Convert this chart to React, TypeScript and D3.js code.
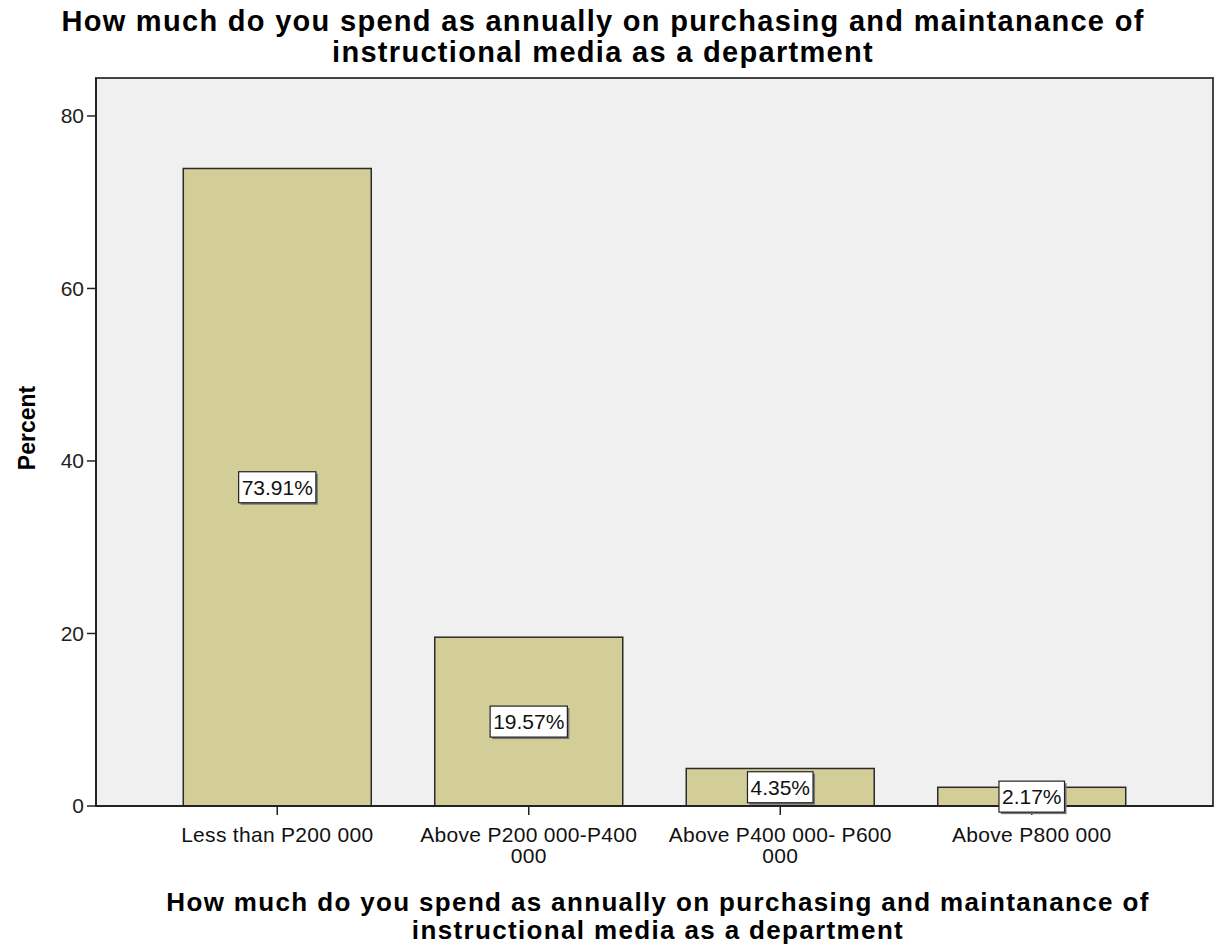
import React, { useEffect, useRef } from "react";
import * as d3 from "d3";

const categories = ["Less than P200 000", "Above P200 000-P400 000", "Above P400 000- P600 000", "Above P800 000"];
const tickLabelLines = [["Less than P200 000"], ["Above P200 000-P400", "000"], ["Above P400 000- P600", "000"], ["Above P800 000"]];
const percents = [73.91, 19.57, 4.35, 2.17];
const yTicks = [0, 20, 40, 60, 80];
const titleLines = ["How much do you spend as annually on purchasing and maintanance of", "instructional media as a department"];
const yTitle = "Percent";

const FONT = "'Liberation Sans', Arial, Helvetica, sans-serif";

export default function App() {
  const ref = useRef<SVGSVGElement>(null);
  useEffect(() => {
    const svg = d3.select(ref.current);
    svg.selectAll("*").remove();
    const W = 1215, H = 949;
    const left = 96, right = 1213, top = 78, bottom = 806;
    const x = d3.scaleBand<string>().domain(categories).range([left, right]).paddingInner(0.2525).paddingOuter(0.347);
    const y = d3.scaleLinear().domain([0, 84.4]).range([bottom, top]);

    svg.append("rect").attr("width", W).attr("height", H).attr("fill", "#fff");
    svg.append("rect").attr("x", left).attr("y", top).attr("width", right - left).attr("height", bottom - top)
      .attr("fill", "#f0f0f0");

    // bars
    svg.append("g").selectAll("rect").data(percents).join("rect")
      .attr("x", (d, i) => x(categories[i])!)
      .attr("y", d => y(d))
      .attr("width", x.bandwidth())
      .attr("height", d => y(0) - y(d))
      .attr("fill", "#d3ce97")
      .attr("stroke", "#2b2b2b")
      .attr("stroke-width", 1.5);

    // frame
    svg.append("rect").attr("x", left).attr("y", top).attr("width", right - left).attr("height", bottom - top)
      .attr("fill", "none").attr("stroke", "#444").attr("stroke-width", 2);
    svg.append("line").attr("x1", left).attr("x2", right).attr("y1", bottom).attr("y2", bottom)
      .attr("stroke", "#222").attr("stroke-width", 2);
    svg.append("line").attr("x1", left).attr("x2", left).attr("y1", top).attr("y2", bottom)
      .attr("stroke", "#222").attr("stroke-width", 2);

    // y ticks
    const yg = svg.append("g");
    yTicks.forEach(t => {
      yg.append("line").attr("x1", left - 9).attr("x2", left).attr("y1", y(t)).attr("y2", y(t))
        .attr("stroke", "#222").attr("stroke-width", 1.5);
      yg.append("text").attr("x", left - 12).attr("y", y(t)).attr("dy", "0.35em")
        .attr("text-anchor", "end").attr("font-family", FONT).attr("font-size", 21).attr("fill", "#222").text(t);
    });

    // x ticks
    const xg = svg.append("g");
    categories.forEach((c, i) => {
      const cx = x(c)! + x.bandwidth() / 2;
      xg.append("line").attr("x1", cx).attr("x2", cx).attr("y1", bottom).attr("y2", bottom + 9)
        .attr("stroke", "#222").attr("stroke-width", 1.5);
      tickLabelLines[i].forEach((ln, j) => {
        xg.append("text").attr("x", cx).attr("y", 842 + j * 21).attr("text-anchor", "middle")
          .attr("font-family", FONT).attr("font-size", 21).attr("letter-spacing", 0.3).attr("fill", "#111").text(ln);
      });
    });

    // labels
    const lg = svg.append("g");
    percents.forEach((p, i) => {
      const cx = x(categories[i])! + x.bandwidth() / 2;
      const cy = (y(p) + y(0)) / 2;
      const g = lg.append("g");
      const txt = g.append("text").attr("x", cx).attr("y", cy).attr("dy", "0.36em").attr("text-anchor", "middle")
        .attr("font-family", FONT).attr("font-size", 21).attr("fill", "#111").text(p.toFixed(2) + "%");
      const bb = (txt.node() as SVGTextElement).getBBox();
      const pw = bb.width + 6, ph = 31;
      g.insert("rect", "text").attr("x", cx - pw / 2 + 2).attr("y", cy - ph / 2 + 2).attr("width", pw).attr("height", ph)
        .attr("fill", "#777");
      g.insert("rect", "text").attr("x", cx - pw / 2).attr("y", cy - ph / 2).attr("width", pw).attr("height", ph)
        .attr("fill", "#fff").attr("stroke", "#222").attr("stroke-width", 1.2);
    });

    // titles
    titleLines.forEach((ln, j) => {
      svg.append("text").attr("x", 603).attr("y", 31 + j * 31).attr("text-anchor", "middle")
        .attr("font-family", FONT).attr("font-weight", "bold").attr("font-size", 29).attr("letter-spacing", 1.3)
        .attr("fill", "#000").text(ln);
      svg.append("text").attr("x", 658).attr("y", 911 + j * 28).attr("text-anchor", "middle")
        .attr("font-family", FONT).attr("font-weight", "bold").attr("font-size", 26).attr("letter-spacing", 1.35)
        .attr("fill", "#000").text(ln);
    });
    svg.append("text").attr("transform", `translate(35,428) rotate(-90)`).attr("text-anchor", "middle")
      .attr("font-family", FONT).attr("font-weight", "bold").attr("font-size", 23).attr("fill", "#000").text(yTitle);
  }, []);
  return (
    <svg ref={ref} width={1215} height={949} style={{ position: "absolute", left: 0, top: 0, display: "block" }} />
  );
}
